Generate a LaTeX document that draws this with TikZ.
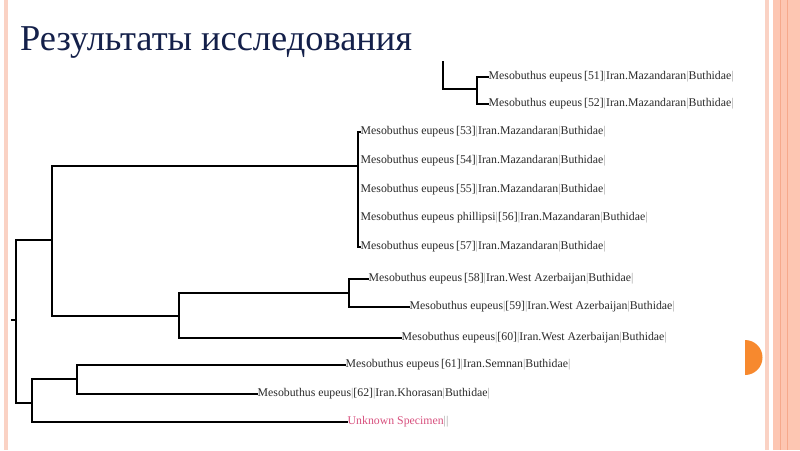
\documentclass[tikz,border=0pt]{standalone}
\usepackage{fontspec}
\setmainfont{Liberation Serif}
\definecolor{titlec}{HTML}{14204A}
\definecolor{labc}{HTML}{2A2A2A}
\definecolor{pipec}{HTML}{A0A0A0}
\definecolor{unkc}{HTML}{D8507E}
\definecolor{pale}{HTML}{FAD2C4}
\definecolor{salmon}{HTML}{FDC6B2}
\definecolor{salmond}{HTML}{F6A98C}
\definecolor{orangec}{HTML}{F7892E}
\newcommand\pp{\textcolor{pipec}{|}}
\tikzset{
  tree/.style={line width=1.7pt, black, line cap=rect},
  leaf/.style={anchor=west, inner sep=0.5pt, text=labc, font=\fontsize{11.8}{13}\selectfont},
}
\begin{document}
\begin{tikzpicture}[x=1pt,y=-1pt]
\useasboundingbox (0,0) rectangle (800,450);
\fill[white] (0,0) rectangle (800,450);
% decorations
\fill[pale] (4,0) rectangle (8,450);
\fill[pale] (765,0) rectangle (769,450);
\fill[salmon] (773,0) rectangle (800,450);
\fill[salmond] (779.5,0) rectangle (781,450);
\fill[salmond] (786.5,0) rectangle (788,450);
\fill[orangec] (745,375) arc[start angle=90,end angle=-90,radius=17.5] -- cycle;
% title
\node[anchor=base west, inner sep=0, text=titlec, font=\fontsize{36.4}{40}\selectfont] (title) at (20,50) {Результаты исследования};
% leaves
\node[leaf] (L51) at (488,77) {Mesobuthus eupeus\,[51]\pp Iran.Mazandaran\pp Buthidae\pp};
\node[leaf] (L52) at (488,104) {Mesobuthus eupeus\,[52]\pp Iran.Mazandaran\pp Buthidae\pp};
\node[leaf] (L53) at (360,132) {Mesobuthus eupeus\,[53]\pp Iran.Mazandaran\pp Buthidae\pp};
\node[leaf] (L54) at (360,161) {Mesobuthus eupeus\,[54]\pp Iran.Mazandaran\pp Buthidae\pp};
\node[leaf] (L55) at (360,190) {Mesobuthus eupeus\,[55]\pp Iran.Mazandaran\pp Buthidae\pp};
\node[leaf] (L56) at (360,218) {Mesobuthus eupeus phillipsi\pp[56]\pp Iran.Mazandaran\pp Buthidae\pp};
\node[leaf] (L57) at (360,247) {Mesobuthus eupeus\,[57]\pp Iran.Mazandaran\pp Buthidae\pp};
\node[leaf] (L58) at (368,279) {Mesobuthus eupeus\,[58]\pp Iran.West Azerbaijan\pp Buthidae\pp};
\node[leaf] (L59) at (409,307) {Mesobuthus eupeus\pp[59]\pp Iran.West Azerbaijan\pp Buthidae\pp};
\node[leaf] (L60) at (401,338) {Mesobuthus eupeus\pp[60]\pp Iran.West Azerbaijan\pp Buthidae\pp};
\node[leaf] (L61) at (345,365) {Mesobuthus eupeus\,[61]\pp Iran.Semnan\pp Buthidae\pp};
\node[leaf] (L62) at (257,394) {Mesobuthus eupeus\pp[62]\pp Iran.Khorasan\pp Buthidae\pp};
\node[leaf, text=unkc] (LU) at (347,422) {Unknown Specimen\pp\pp};
% internal points
\coordinate (t0) at (443,62);
\coordinate (c1) at (477,89);
\coordinate (c2) at (358,166);
\coordinate (root) at (16,320);
\coordinate (rstub) at (12,320);
\coordinate (nA) at (52,240);
\coordinate (nB) at (32,403);
\coordinate (nC) at (179,316);
\coordinate (nD) at (349,293);
\coordinate (nE) at (77,379);
% branches
\draw[tree] (t0) |- (c1);
\draw[tree] (L51.west) -| (c1) |- (L52.west);
\draw[tree] (L53.west) -| (c2) |- (L57.west);
\draw[tree] (rstub) -- (root);
\draw[tree] (nA) -| (root) |- (nB);
\draw[tree] (c2) -| (nA) |- (nC);
\draw[tree] (nD) -| (nC) |- (L60.west);
\draw[tree] (L58.west) -| (nD) |- (L59.west);
\draw[tree] (nE) -| (nB) |- (LU.west);
\draw[tree] (L61.west) -| (nE) |- (L62.west);
\end{tikzpicture}
\end{document}
